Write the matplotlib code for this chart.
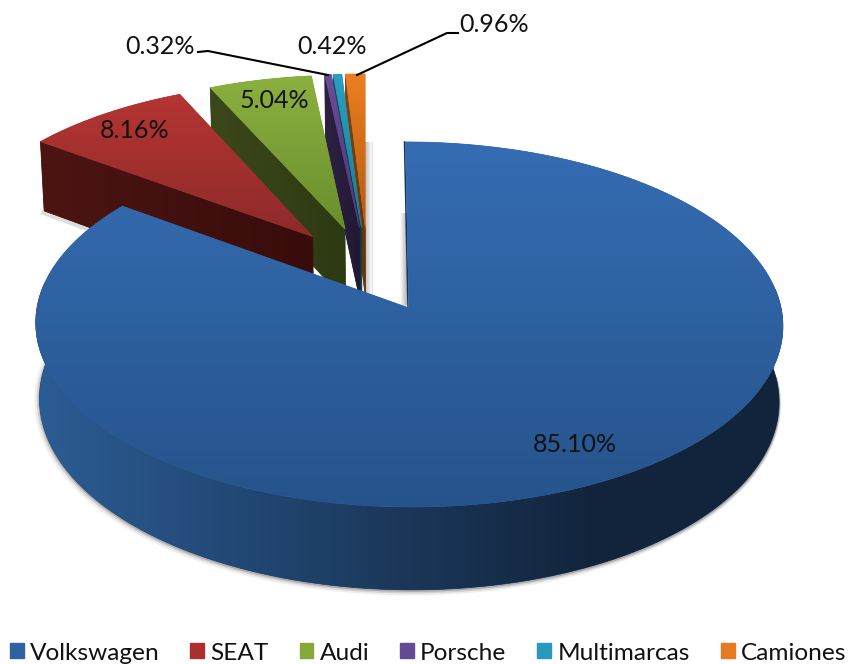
import numpy as np
import matplotlib
matplotlib.use("Agg")
import matplotlib.pyplot as plt
from matplotlib.patches import Patch, Polygon
from matplotlib.colors import to_rgb

plt.rcParams['font.family'] = ['Lato', 'DejaVu Sans']

# datos
marcas = ['Volkswagen', 'SEAT', 'Audi', 'Porsche', 'Multimarcas', 'Camiones']
shares = [85.10, 8.16, 5.04, 0.32, 0.42, 0.96]
pct_labels = ['85.10%', '8.16%', '5.04%', '0.32%', '0.42%', '0.96%']

# colores: leyenda, cara superior (arriba, abajo), cara lateral (izq, der)
legend_colors = ['#2f62a3', '#ab2f2d', '#86aa3a', '#634a92', '#2a9abb', '#e57a22']
top_colors = [('#356db3', '#26538b'), ('#b53532', '#8d2a2a'), ('#8cb03e', '#698e2d'),
              ('#6c4c9a', '#4f3576'), ('#2ba0c2', '#1c7892'), ('#ec7e22', '#b35c14')]
side_colors = [('#2b5c94', '#12243b'), ('#4c1512', '#380c0b'), ('#3c481b', '#2d3911'),
               ('#2d2143', '#221833'), ('#0f4c5e', '#0b3a48'), ('#7c4410', '#633508')]

# geometria de la proyeccion
X0, Y0 = 409, 308
RX, RY = 372, 181
PERSP = 0.09
SKEW = 3.5
DEPTH = 75.5
BOTTOM_SCALE = 0.99
EXPLODE = 0.245


def project(u, v):
    d = 1 + PERSP * v
    return X0 + RX * u / d - SKEW * v, Y0 - RY * v / d


def project_bottom(u, v):
    x, y = project(u, v)
    return X0 + (x - X0) * BOTTOM_SCALE, y + DEPTH / (1 + PERSP * v)


def gradient_fill(ax, pts, c1, c2, z, vertical=True, reach=1.0):
    # reach < 1: el color final se alcanza antes del borde
    pts = np.asarray(pts)
    x0, y0 = pts.min(axis=0)
    x1, y1 = pts.max(axis=0)
    t = np.clip(np.linspace(0, 1, 128) / reach, 0, 1)[:, None]
    col = (1 - t) * np.array(to_rgb(c1)) + t * np.array(to_rgb(c2))
    arr = col[:, None, :] if vertical else col[None, :, :]
    im = ax.imshow(arr, extent=(x0, x1, y1, y0), aspect='auto', zorder=z, interpolation='bilinear')
    mid = (np.array(to_rgb(c1)) + np.array(to_rgb(c2))) / 2
    back = Polygon(pts, closed=True, fc=mid, ec=mid, lw=0.5, zorder=z - 0.1)
    ax.add_patch(back)
    clip = Polygon(pts, closed=True, transform=ax.transData, fc='none', ec='none')
    ax.add_patch(clip)
    im.set_clip_path(clip)


fig = plt.figure(figsize=(8.49, 6.64), dpi=100)
ax = fig.add_axes([0, 0, 1, 1])
ax.set_axis_off()

angles = np.concatenate([[0], np.cumsum(shares)]) / sum(shares) * 2 * np.pi
mids = (angles[:-1] + angles[1:]) / 2
# desplazamiento de cada porcion respecto a la de Volkswagen
off_u = EXPLODE * (np.sin(mids) - np.sin(mids[0]))
off_v = EXPLODE * (np.cos(mids) - np.cos(mids[0]))

# sombras
th = np.radians(np.linspace(88, 276, 300))
bx, by = project_bottom(np.sin(th), np.cos(th))
for dx, dy, lw, a in [(-1.5, 2, 5, 0.10), (-0.5, 1.5, 3, 0.18), (0, 1, 1.5, 0.3)]:
    ax.plot(bx + dx, by + dy, color='#555555', lw=lw, alpha=a, zorder=1, solid_capstyle='round')

for i in range(len(marcas) - 1, 0, -1):
    a = np.linspace(angles[i], angles[i + 1], 60)
    u = np.sin(a) + off_u[i]
    v = np.cos(a) + off_v[i]
    ax_, ay_ = project(off_u[i], off_v[i])
    bx_, by_ = project_bottom(off_u[i], off_v[i])
    x, y = project(u, v)
    sx, sy = project_bottom(u[0], v[0])
    z = 10 + (len(marcas) - i) * 2
    if i == 1:
        ax.plot([sx - 1, ax_], [sy + 2, by_ + 2], color='#555555', lw=3, alpha=0.2, zorder=2)
    gradient_fill(ax, [(x[0], y[0]), (ax_, ay_), (bx_, by_), (sx, sy)],
                  side_colors[i][0], side_colors[i][1], z, vertical=False)
    top = np.column_stack([np.r_[ax_, x], np.r_[ay_, y]])
    gradient_fill(ax, top, top_colors[i][0], top_colors[i][1], z + 1)

# sombras del hueco
top_x, top_y = project(0, 1)
for x0, x1, y0, y1, c1, c2 in [(365, 372, top_y, 300, '#bcbcbc', '#ffffff'),
                               (400, 407, 213, 305, '#ffffff', '#b4b4b4')]:
    gradient_fill(ax, [(x0, y0), (x1, y0), (x1, y1), (x0, y1)], c1, c2, 3, vertical=False)

# Volkswagen
a = np.linspace(angles[0], angles[1], 900)
u, v = np.sin(a), np.cos(a)
x, y = project(u, v)
cx, cy = project(0, 0)
th = np.radians(np.linspace(84, 278, 400))
tx, ty = project(np.sin(th), np.cos(th))
bx, by = project_bottom(np.sin(th), np.cos(th))
side = np.column_stack([np.r_[tx, bx[::-1]], np.r_[ty, by[::-1]]])
gradient_fill(ax, side, side_colors[0][0], side_colors[0][1], 30, vertical=False, reach=0.75)
ax.plot([top_x - 1, cx - 1], [top_y, cy], color='#17345c', lw=1.1, zorder=30)
gradient_fill(ax, np.column_stack([np.r_[cx, x], np.r_[cy, y]]), top_colors[0][0], top_colors[0][1], 31)

# etiquetas
label_pos = [(575, 444), (135, 131), (274, 101), (160, 46), (332, 46), (494, 25)]
for txt, (lx, ly) in zip(pct_labels, label_pos):
    ax.text(lx, ly, txt, ha='center', va='center', fontsize=18, color='#111111', zorder=40)

# lineas guia
ax.plot([198, 208, 328], [52, 51, 75], color='black', lw=1.5, zorder=35)
ax.plot([357, 447, 458], [75, 33, 33], color='black', lw=1.5, zorder=35)

ax.set_xlim(0, 849)
ax.set_ylim(664, 0)

handles = [Patch(facecolor=c, edgecolor=c) for c in legend_colors]
fig.legend(handles, marcas, loc='center', bbox_to_anchor=(428 / 849, 1 - 653 / 664), ncol=6,
           frameon=False, fontsize=17.6, borderpad=0, borderaxespad=0,
           handlelength=0.57, handleheight=0.57, handletextpad=0.25, columnspacing=1.26, labelcolor='#111111')

fig.savefig('out.png', dpi=100)
